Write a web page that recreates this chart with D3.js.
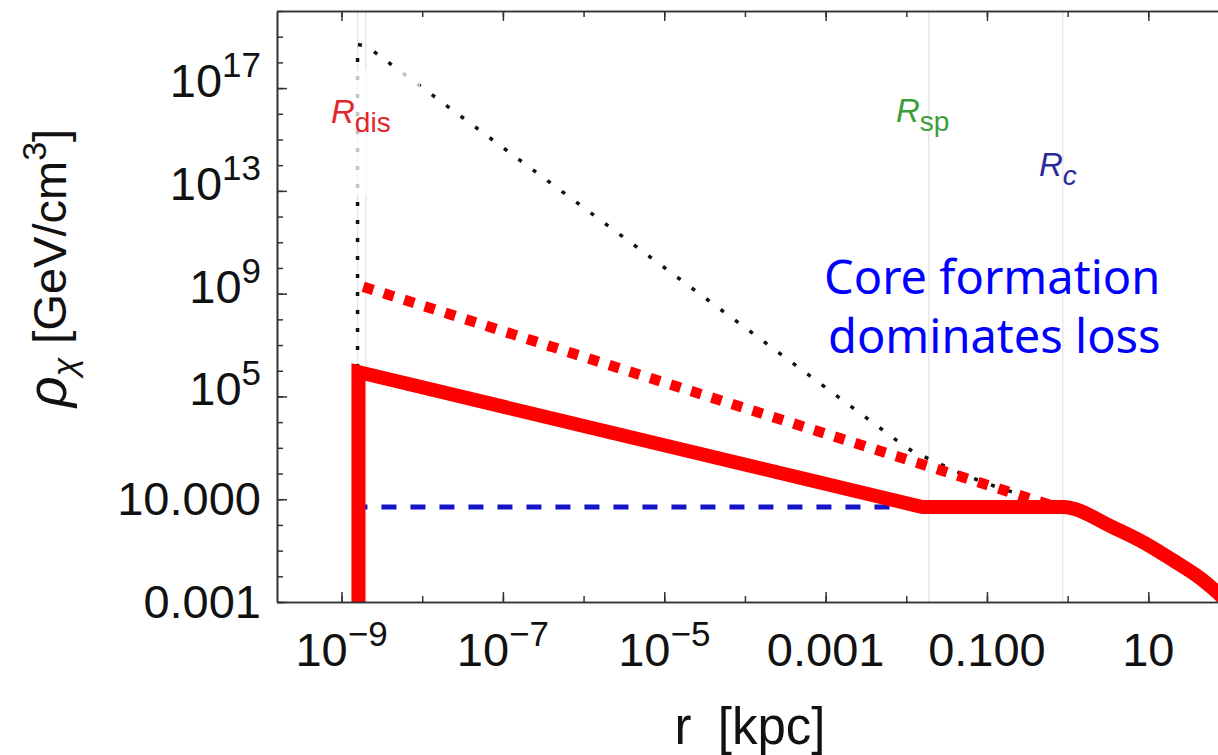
<!DOCTYPE html>
<html>
<head>
<meta charset="utf-8">
<script src="https://cdn.jsdelivr.net/npm/d3@7"></script>
<style>
  body { margin: 0; background: #fff; }
  svg { display: block; }
</style>
</head>
<body>
<div id="chart"></div>
<script>
// values: r in kpc, rho in GeV/cm^3
const solidR   = [1.62e-9, 1.62e-9, 1.58e-2, 0.87];
const solidRho = [1e-4, 8.9e5, 5.0, 5.0];
// outer fall-off of the solid curve (smooth part)
const tailR   = [0.5, 0.87, 3.6, 9.5, 20, 44, 71, 100];
const tailRho = [5.0, 5.0, 0.82, 0.18, 0.043, 0.0085, 0.0024, 0.00083];

const dotRedR   = [1.86e-9, 4.0e-5, 0.87];
const dotRedRho = [1.86e9, 8.7e4, 4.2];

const dotBlackR   = [1.58e-9, 1.58e-9, 2.04e-9, 7.6e-3, 1.2e-2, 4.9e-2, 0.126, 0.87];
const dotBlackRho = [1e-3, 5e18, 4.3e18, 1950, 724, 95, 31.6, 4.2];

const dashBlueR   = [1.62e-9, 7.2e-3];
const dashBlueRho = [5.0, 5.0];

const refLinesR = [1.58e-9, 2.0e-9, 0.019, 0.87];

const xTickValues = [1e-9, 1e-7, 1e-5, 1e-3, 1e-1, 10];
const xTickLabels = ["10^−9", "10^−7", "10^−5", "0.001", "0.100", "10"];
const yTickValues = [1e-3, 10, 1e5, 1e9, 1e13, 1e17];
const yTickLabels = ["0.001", "10.000", "10^5", "10^9", "10^13", "10^17"];

const width = 1218, height = 755;
const m = {left: 277, right: 1229, top: 11, bottom: 602};

const svg = d3.select("#chart").append("svg")
    .attr("width", width).attr("height", height);

const x = d3.scaleLog().domain([Math.pow(10, -9.8), 100]).range([m.left, m.right]);
const y = d3.scaleLog().domain([1e-3, 1e20]).range([m.bottom, m.top]);

const toPts = (rs, vs) => rs.map((r, i) => [r, vs[i]]);
const line = d3.line().x(d => x(d[0])).y(d => y(d[1]));
const smooth = d3.line().x(d => x(d[0])).y(d => y(d[1])).curve(d3.curveMonotoneX);

svg.append("clipPath").attr("id", "plotclip")
  .append("rect").attr("x", m.left).attr("y", m.top)
  .attr("width", m.right - m.left).attr("height", m.bottom - m.top);

const plot = svg.append("g").attr("clip-path", "url(#plotclip)");

// thin gray marker lines
plot.selectAll("line.ref").data(refLinesR)
  .enter().append("line").attr("class", "ref")
  .attr("x1", d => x(d)).attr("x2", d => x(d))
  .attr("y1", m.top).attr("y2", m.bottom)
  .style("stroke", "#e2e2e2").style("stroke-width", 1.2);

// black dotted spike
plot.append("path")
  .attr("d", line(toPts(dotBlackR, dotBlackRho)))
  .style("fill", "none").style("stroke", "#111")
  .style("stroke-width", 3.5).style("stroke-dasharray", "4,14");

// white box behind R_dis label
svg.append("rect").attr("x", 300).attr("y", 70).attr("width", 120).attr("height", 125)
  .style("fill", "#fff").style("opacity", 0.75);

// blue dashed
plot.append("path")
  .attr("d", line(toPts(dashBlueR, dashBlueRho)))
  .style("fill", "none").style("stroke", "#1515c8")
  .style("stroke-width", 5).style("stroke-dasharray", "15,14")
  .style("stroke-dashoffset", 6);

// red dotted
plot.append("path")
  .attr("d", line(toPts(dotRedR, dotRedRho)))
  .style("fill", "none").style("stroke", "#ff0000")
  .style("stroke-width", 10.5).style("stroke-dasharray", "10.5,11");

// red solid
plot.append("path")
  .attr("d", line(toPts(solidR, solidRho)))
  .style("fill", "none").style("stroke", "#ff0000")
  .style("stroke-width", 14).style("stroke-linejoin", "miter");
plot.append("path")
  .attr("d", smooth(toPts(tailR, tailRho)))
  .style("fill", "none").style("stroke", "#ff0000")
  .style("stroke-width", 14).style("stroke-linejoin", "round");

// axes
const xMinor = d3.range(-9, 3).map(k => Math.pow(10, k));
const yMinor = d3.range(-3, 21).map(k => Math.pow(10, k));

function styleAxis(g) {
  g.select(".domain").style("stroke", "#333").style("stroke-width", 1.6);
  g.selectAll(".tick line").style("stroke", "#333").style("stroke-width", 1.5);
  g.selectAll(".tick text").remove();
}

svg.append("g").attr("transform", `translate(0,${m.bottom})`)
  .call(d3.axisBottom(x).tickValues(xMinor).tickSizeInner(-6).tickSizeOuter(0)).call(styleAxis);
svg.append("g").attr("transform", `translate(0,${m.bottom})`)
  .call(d3.axisBottom(x).tickValues(xTickValues).tickSizeInner(-10).tickSizeOuter(0)).call(styleAxis);
svg.append("g").attr("transform", `translate(0,${m.top})`)
  .call(d3.axisTop(x).tickValues(xMinor).tickSizeInner(-6).tickSizeOuter(0)).call(styleAxis);
svg.append("g").attr("transform", `translate(0,${m.top})`)
  .call(d3.axisTop(x).tickValues(xTickValues).tickSizeInner(-10).tickSizeOuter(0)).call(styleAxis);
svg.append("g").attr("transform", `translate(${m.left},0)`)
  .call(d3.axisLeft(y).tickValues(yMinor).tickSizeInner(-6).tickSizeOuter(0)).call(styleAxis);
svg.append("g").attr("transform", `translate(${m.left},0)`)
  .call(d3.axisLeft(y).tickValues(yTickValues).tickSizeInner(-10).tickSizeOuter(0)).call(styleAxis);

const font = "'Liberation Sans', Arial, sans-serif";

function tickLabel(sel, label) {
  const parts = label.split("^");
  sel.append("tspan").text(parts[0]);
  if (parts.length > 1) {
    sel.append("tspan").attr("dy", -20).style("font-size", "35px").text(parts[1]);
  }
  return parts.length > 1;
}

xTickValues.forEach((v, i) => {
  const t = svg.append("text")
    .attr("x", x(v)).attr("y", 666)
    .attr("text-anchor", "middle")
    .style("font-family", font).style("font-size", "47px").style("fill", "#111");
  tickLabel(t, xTickLabels[i]);
});

yTickValues.forEach((v, i) => {
  const t = svg.append("text")
    .attr("x", 261)
    .attr("text-anchor", "end")
    .style("font-family", font).style("font-size", "47px").style("fill", "#111");
  const sup = tickLabel(t, yTickLabels[i]);
  t.attr("y", y(v) + (sup ? 9 : 16));
});

// axis titles
const xt = svg.append("text")
  .attr("x", 750).attr("y", 744)
  .attr("text-anchor", "middle")
  .style("font-family", font).style("font-size", "51px").style("fill", "#111");
xt.append("tspan").text("r");
xt.append("tspan").attr("dx", 12).text(" [kpc]");

const yt = svg.append("text")
  .attr("transform", "translate(66,268) rotate(-90)")
  .attr("text-anchor", "middle")
  .style("font-family", font).style("font-size", "47px").style("fill", "#111");
yt.append("tspan").style("font-style", "italic").style("font-size", "54px").text("ρ");
yt.append("tspan").attr("dy", 10).style("font-size", "34px").style("font-style", "italic").text("χ");
yt.append("tspan").attr("dy", -10).attr("dx", 14).text("[GeV/cm");
yt.append("tspan").attr("dy", -20).style("font-size", "34px").text("3");
yt.append("tspan").attr("dy", 20).text("]");

// R labels
function rLabel(xp, yp, sub, color, subItalic) {
  const t = svg.append("text").attr("x", xp).attr("y", yp)
    .style("font-family", font).style("font-size", "33px").style("fill", color);
  t.append("tspan").style("font-style", "italic").text("R");
  t.append("tspan").attr("dy", 9).style("font-size", "28px")
    .style("font-style", subItalic ? "italic" : "normal").text(sub);
}
rLabel(331, 123, "dis", "#e3262c", false);
rLabel(896, 122, "sp", "#3a9f3a", false);
rLabel(1039, 176, "c", "#2b2b9c", true);

// annotation
const note = svg.append("text")
  .style("font-family", "'Noto Sans', 'Open Sans', sans-serif")
  .style("font-size", "47px").style("fill", "#0000ff");
note.append("tspan").attr("x", 824).attr("y", 294).text("Core formation");
note.append("tspan").attr("x", 828).attr("y", 353).text("dominates loss");
</script>
</body>
</html>
